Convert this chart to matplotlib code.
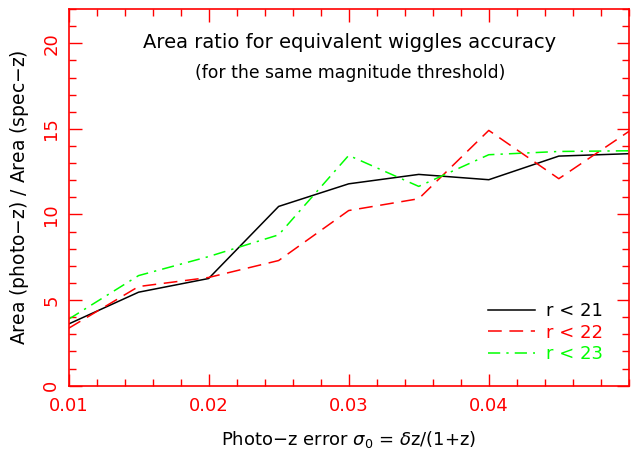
import matplotlib
matplotlib.use("Agg")
import matplotlib.pyplot as plt
from matplotlib.ticker import MultipleLocator

sigma = [0.01, 0.015, 0.02, 0.025, 0.03, 0.035, 0.04, 0.045, 0.05]
r21 = [3.6, 5.46, 6.26, 10.47, 11.79, 12.34, 12.03, 13.41, 13.55]
r22 = [3.35, 5.79, 6.32, 7.31, 10.23, 10.92, 14.91, 12.09, 14.85]
r23 = [3.88, 6.43, 7.54, 8.81, 13.45, 11.64, 13.49, 13.68, 13.72]
labels = ["r < 21", "r < 22", "r < 23"]
xticks = [0.01, 0.02, 0.03, 0.04]
xticklabels = ["0.01", "0.02", "0.03", "0.04"]
yticks = [0, 5, 10, 15, 20]

plt.rcParams['font.family'] = ['DejaVu Sans']
fig = plt.figure(figsize=(6.31, 4.58), dpi=100)
ax = fig.add_axes([0.1086, 0.1579, 0.888, 0.8224])

ax.plot(sigma, r21, color='black', lw=1.1, ls='-', label=labels[0])
ax.plot(sigma, r22, color='#ff0000', lw=1.1, ls=(0, (9, 5)), label=labels[1])
ax.plot(sigma, r23, color='#00ff00', lw=1.1, ls=(0, (8, 4, 1.5, 4)), label=labels[2])

ax.set_xlim(0.01, 0.05)
ax.set_ylim(0, 22)
ax.set_xticks(xticks)
ax.set_xticklabels(xticklabels)
ax.set_yticks(yticks)
ax.xaxis.set_minor_locator(MultipleLocator(0.002))
ax.yaxis.set_minor_locator(MultipleLocator(1))
ax.tick_params(which='both', direction='in', top=True, right=True, colors='#ff0000',
               labelsize=13)
ax.tick_params(which='major', length=9, width=1)
ax.tick_params(which='minor', length=5, width=1)
ax.tick_params(axis='x', pad=8)
ax.tick_params(axis='y', pad=6)
for lab in ax.get_yticklabels():
    lab.set_rotation(90)
    lab.set_va('center')
for s in ax.spines.values():
    s.set_color('#ff0000')
    s.set_linewidth(1.2)

ax.set_xlabel(r"Photo$-$z error $\sigma_0$ = $\delta$z/(1+z)", fontsize=13, labelpad=10)
ax.set_ylabel(r"Area (photo$-$z) / Area (spec$-$z)", fontsize=13.5, labelpad=8)

ax.text(0.502, 0.911, "Area ratio for equivalent wiggles accuracy", transform=ax.transAxes,
        ha='center', va='center', fontsize=14)
ax.text(0.502, 0.831, "(for the same magnitude threshold)", transform=ax.transAxes,
        ha='center', va='center', fontsize=12.4)

leg = ax.legend(loc='lower right', bbox_to_anchor=(0.983, 0.0175), frameon=False,
                handlelength=2.6, handletextpad=0.6, labelspacing=0.18, fontsize=13,
                labelcolor='linecolor')

fig.savefig("out.png", dpi=100)
